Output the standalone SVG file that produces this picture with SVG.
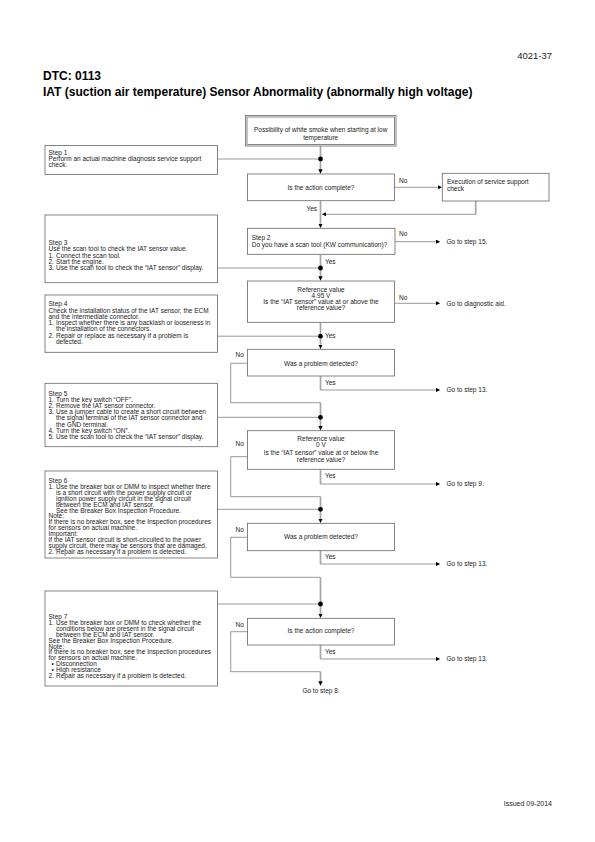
<svg xmlns="http://www.w3.org/2000/svg" width="595" height="842" viewBox="0 0 595 842">
<defs>
<marker id="ah" markerWidth="6" markerHeight="6" refX="0.3" refY="2.2" orient="auto" markerUnits="userSpaceOnUse"><path d="M0,0 L4.5,2.2 L0,4.4 Z" fill="#000"/></marker>
</defs>
<style>
text{font-family:"Liberation Sans",Arial,sans-serif;font-size:6.5px;fill:#222}
.h{font-weight:bold;fill:#000}
.box{fill:#fff;stroke:#666;stroke-width:0.8}
.sp{stroke:#a6a6a6;stroke-width:1.7;fill:none}
.ln{stroke:#555;stroke-width:0.6;fill:none}
.ar{marker-end:url(#ah)}
.c{text-anchor:middle}
.dot{fill:#000}
</style>
<rect width="595" height="842" fill="#fff"/>
<g id="header">
<text x="552" y="59" style="font-size:9.5px;text-anchor:end">4021-37</text>
<text x="43" y="80" class="h" style="font-size:12px">DTC: 0113</text>
<text x="43" y="96" class="h" style="font-size:12px">IAT (suction air temperature) Sensor Abnormality (abnormally high voltage)</text>
<text x="552" y="806" style="font-size:7px;text-anchor:end">Issued 09-2014</text>
</g>
<g id="connectors">
<path class="sp ar" d="M320.5,146 V169.5"/>
<path class="sp ar" d="M320.5,200.7 V223.8"/>
<path class="sp ar" d="M320.5,254.3 V276.5"/>
<path class="sp ar" d="M320.5,322.3 V344.8"/>
<path class="sp" d="M320.5,376 V390"/>
<path class="sp ar" d="M320.5,402.7 V426.2"/>
<path class="sp" d="M320.5,469.3 V484"/>
<path class="sp ar" d="M320.5,496.7 V518.8"/>
<path class="sp" d="M320.5,550.7 V564"/>
<path class="sp ar" d="M320.5,577.3 V613.8"/>
<path class="sp" d="M320.5,645 V659"/>
<path class="sp ar" d="M320.5,671.7 V681.5"/>
<path class="sp" d="M475.7,201 V214.3"/>
<path class="ln" d="M217.5,159 H320.5"/>
<path class="ln ar" d="M394.5,187.3 H437.8"/>
<path class="ln ar" d="M475.7,214.3 H326"/>
<path class="ln ar" d="M395,241.7 H436"/>
<path class="ln" d="M217.5,268 H320.5"/>
<path class="ln ar" d="M394.5,303.3 H436"/>
<path class="ln" d="M217.5,336.2 H320.5"/>
<path class="ln" d="M247.5,363.3 H230.7 V402.7 H320.5"/>
<path class="ln ar" d="M320.5,390 H436"/>
<path class="ln" d="M217.5,417.3 H320.5"/>
<path class="ln" d="M247.5,456.7 H230.7 V496.7 H320.5"/>
<path class="ln ar" d="M320.5,484 H436"/>
<path class="ln" d="M217.5,509.3 H320.5"/>
<path class="ln" d="M247.5,537.3 H230.7 V577.3 H320.5"/>
<path class="ln ar" d="M320.5,564 H436"/>
<path class="ln" d="M217.5,604 H320.5"/>
<path class="ln" d="M247.5,631.7 H230.7 V671.7 H320.5"/>
<path class="ln ar" d="M320.5,659 H436"/>
<circle class="dot" cx="320.5" cy="159" r="2.4"/>
<circle class="dot" cx="320.5" cy="268" r="2.4"/>
<circle class="dot" cx="320.5" cy="336.2" r="2.4"/>
<circle class="dot" cx="320.5" cy="417.3" r="2.4"/>
<circle class="dot" cx="320.5" cy="509.3" r="2.4"/>
<circle class="dot" cx="320.5" cy="604" r="2.4"/>
<text x="399" y="183.3">No</text>
<text x="306.5" y="211.3">Yes</text>
<text x="399" y="236.3">No</text>
<text x="325" y="264">Yes</text>
<text x="399" y="300">No</text>
<text x="325" y="338.3">Yes</text>
<text x="235.5" y="357.3">No</text>
<text x="325" y="385">Yes</text>
<text x="235.5" y="445.6">No</text>
<text x="325" y="478.3">Yes</text>
<text x="235.5" y="532.3">No</text>
<text x="325" y="559">Yes</text>
<text x="235.5" y="626.6">No</text>
<text x="325" y="654">Yes</text>
</g>
<g id="start">
<rect class="box" x="245.5" y="115.5" width="150.5" height="30.5"/>
<rect class="box" x="247" y="117" width="147.5" height="27.5"/>
<text class="c" x="320.7" y="131.6">Possibility of white smoke when starting at low</text>
<text class="c" x="320.7" y="140">temperature</text>
</g>
<g id="step1">
<rect class="box" x="45" y="145.5" width="172.5" height="29"/>
<text x="48.5" y="154.5">Step 1</text>
<text x="48.5" y="160.8">Perform an actual machine diagnosis service support</text>
<text x="48.5" y="167.1">check.</text>
</g>
<g id="q-action1">
<rect class="box" x="247.5" y="174" width="147" height="26.7"/>
<text class="c" x="321" y="190">Is the action complete?</text>
</g>
<g id="service">
<rect class="box" x="442.3" y="173.3" width="106.7" height="27.7"/>
<text x="447" y="183.5">Execution of service support</text>
<text x="447" y="191">check</text>
</g>
<g id="step2">
<rect class="box" x="247.5" y="228.3" width="147.5" height="26"/>
<text x="251.7" y="240">Step 2</text>
<text x="251.7" y="246.5">Do you have a scan tool (KW communication)?</text>
</g>
<g id="goto15"><text x="446.5" y="244">Go to step 15.</text></g>
<g id="step3">
<rect class="box" x="45" y="215" width="172.5" height="67.7"/>
<text x="48.5" y="245">Step 3</text>
<text x="48.5" y="251.3">Use the scan tool to check the IAT sensor value.</text>
<text x="48.5" y="257.6">1.</text><text x="56" y="257.6">Connect the scan tool.</text>
<text x="48.5" y="263.9">2.</text><text x="56" y="263.9">Start the engine.</text>
<text x="48.5" y="270.2">3.</text><text x="56" y="270.2">Use the scan tool to check the “IAT sensor” display.</text>
</g>
<g id="q-ref495">
<rect class="box" x="247.5" y="281" width="147" height="41.3"/>
<text class="c" x="321" y="291.6">Reference value</text>
<text class="c" x="321" y="297.8">4.95 V</text>
<text class="c" x="321" y="304">Is the “IAT sensor” value at or above the</text>
<text class="c" x="321" y="310.2">reference value?</text>
</g>
<g id="gotodiag"><text x="446.5" y="305.6">Go to diagnostic aid.</text></g>
<g id="step4">
<rect class="box" x="45" y="295" width="172.5" height="57.3"/>
<text x="48.5" y="306.3">Step 4</text>
<text x="48.5" y="312.5">Check the installation status of the IAT sensor, the ECM</text>
<text x="48.5" y="318.8">and the intermediate connector.</text>
<text x="48.5" y="325.1">1.</text><text x="56" y="325.1">Inspect whether there is any backlash or looseness in</text>
<text x="56" y="331.4">the installation of the connectors.</text>
<text x="48.5" y="337.7">2.</text><text x="56" y="337.7">Repair or replace as necessary if a problem is</text>
<text x="56" y="344">detected.</text>
</g>
<g id="q-problem1">
<rect class="box" x="247.5" y="349.3" width="147" height="26.7"/>
<text class="c" x="321" y="365.5">Was a problem detected?</text>
</g>
<g id="goto13a"><text x="446.5" y="392.3">Go to step 13.</text></g>
<g id="step5">
<rect class="box" x="45" y="383.3" width="172.5" height="63.4"/>
<text x="48.5" y="395.6">Step 5</text>
<text x="48.5" y="401.8">1.</text><text x="56" y="401.8">Turn the key switch “OFF”.</text>
<text x="48.5" y="408">2.</text><text x="56" y="408">Remove the IAT sensor connector.</text>
<text x="48.5" y="414.2">3.</text><text x="56" y="414.2">Use a jumper cable to create a short circuit between</text>
<text x="56" y="420.4">the signal terminal of the IAT sensor connector and</text>
<text x="56" y="426.6">the GND terminal.</text>
<text x="48.5" y="432.8">4.</text><text x="56" y="432.8">Turn the key switch “ON”.</text>
<text x="48.5" y="439">5.</text><text x="56" y="439">Use the scan tool to check the “IAT sensor” display.</text>
</g>
<g id="q-ref0">
<rect class="box" x="247.5" y="430.7" width="147" height="38.6"/>
<text class="c" x="321" y="441">Reference value</text>
<text class="c" x="321" y="447.4">0 V</text>
<text class="c" x="321" y="454.8">Is the “IAT sensor” value at or below the</text>
<text class="c" x="321" y="461.6">reference value?</text>
</g>
<g id="goto9"><text x="446.5" y="486.3">Go to step 9.</text></g>
<g id="step6">
<rect class="box" x="45" y="471" width="172.5" height="87"/>
<text x="48.5" y="483">Step 6</text>
<text x="48.5" y="488.9">1.</text><text x="56" y="488.9">Use the breaker box or DMM to inspect whether there</text>
<text x="56" y="494.8">is a short circuit with the power supply circuit or</text>
<text x="56" y="500.7">ignition power supply circuit in the signal circuit</text>
<text x="56" y="506.6">between the ECM and IAT sensor.</text>
<text x="56" y="512.5">See the Breaker Box Inspection Procedure.</text>
<text x="48.5" y="518.4">Note:</text>
<text x="48.5" y="524.3">If there is no breaker box, see the Inspection procedures</text>
<text x="48.5" y="530.2">for sensors on actual machine.</text>
<text x="48.5" y="536.1">Important:</text>
<text x="48.5" y="542">If the IAT sensor circuit is short-circuited to the power</text>
<text x="48.5" y="547.9">supply circuit, there may be sensors that are damaged.</text>
<text x="48.5" y="553.8">2.</text><text x="56" y="553.8">Repair as necessary if a problem is detected.</text>
</g>
<g id="q-problem2">
<rect class="box" x="247.5" y="523.3" width="147" height="27.4"/>
<text class="c" x="321" y="539">Was a problem detected?</text>
</g>
<g id="goto13b"><text x="446.5" y="566.3">Go to step 13.</text></g>
<g id="step7">
<rect class="box" x="45" y="591" width="172.5" height="95"/>
<text x="48.5" y="619">Step 7</text>
<text x="48.5" y="624.9">1.</text><text x="56" y="624.9">Use the breaker box or DMM to check whether the</text>
<text x="56" y="630.8">conditions below are present in the signal circuit</text>
<text x="56" y="636.7">between the ECM and IAT sensor.</text>
<text x="48.5" y="642.6">See the Breaker Box Inspection Procedure.</text>
<text x="48.5" y="648.5">Note:</text>
<text x="48.5" y="654.4">If there is no breaker box, see the Inspection procedures</text>
<text x="48.5" y="660.3">for sensors on actual machine.</text>
<text x="51.5" y="666.2">•</text><text x="56" y="666.2">Disconnection</text>
<text x="51.5" y="672.1">•</text><text x="56" y="672.1">High resistance</text>
<text x="48.5" y="678">2.</text><text x="56" y="678">Repair as necessary if a problem is detected.</text>
</g>
<g id="q-action2">
<rect class="box" x="247.5" y="618.3" width="147" height="26.7"/>
<text class="c" x="321" y="633.3">Is the action complete?</text>
</g>
<g id="goto13c"><text x="446.5" y="661.3">Go to step 13.</text></g>
<g id="goto8"><text class="c" x="321" y="693">Go to step 8.</text></g>
</svg>
